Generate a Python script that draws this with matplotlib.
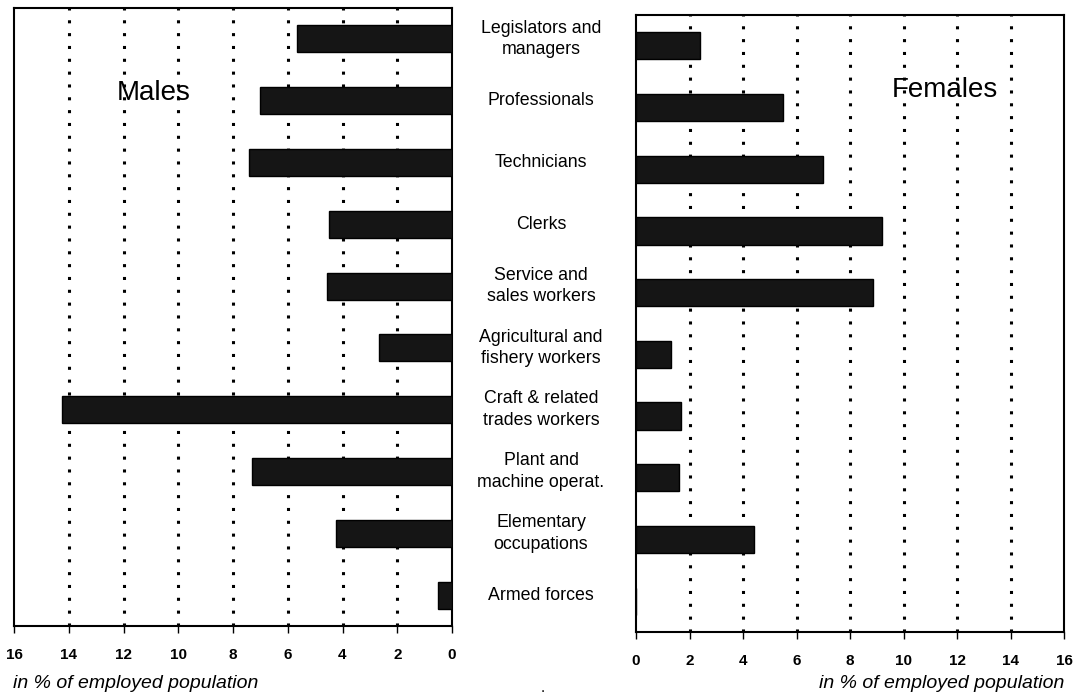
import numpy as np
import matplotlib.pyplot as plt
import matplotlib.transforms as mtransforms

plt.rcParams['font.family'] = ['Liberation Sans', 'DejaVu Sans']

categories = ['Legislators and\nmanagers', 'Professionals', 'Technicians', 'Clerks',
              'Service and\nsales workers', 'Agricultural and\nfishery workers',
              'Craft & related\ntrades workers', 'Plant and\nmachine operat.',
              'Elementary\noccupations', 'Armed forces']
males = [5.65, 7.0, 7.4, 4.5, 4.55, 2.65, 14.25, 7.3, 4.25, 0.5]
females = [2.4, 5.5, 7.0, 9.2, 8.85, 1.3, 1.7, 1.6, 4.4, 0.0]
xticks = [0, 2, 4, 6, 8, 10, 12, 14, 16]

W, H = 1084, 700
fig = plt.figure(figsize=(W / 100, H / 100), dpi=100)
ax1 = fig.add_axes([14 / W, 1 - 626 / H, 438 / W, 618 / H])
ax2 = fig.add_axes([636 / W, 1 - 632 / H, 428 / W, 617 / H])

y = np.arange(len(categories))
bar_kw = dict(height=0.44, color='#151515', edgecolor='black', linewidth=1, zorder=3)
ax1.barh(y, males, **bar_kw)
ax2.barh(y, females, **bar_kw)

for ax in (ax1, ax2):
    ax.set_ylim(len(categories) - 0.5, -0.5)
    ax.set_yticks([])
    ax.set_xticks(xticks)
    ax.set_xticklabels([str(t) for t in xticks], fontweight='bold', fontsize=11)
    ax.tick_params(axis='x', direction='out', length=5, width=1, pad=11)
    for t in xticks[1:-1]:
        ax.axvline(t, color='black', linestyle=(0, (1, 3.2)), linewidth=2.2, zorder=1)
    for s in ax.spines.values():
        s.set_linewidth(1.5)

ax1.set_xlim(16, 0)
ax2.set_xlim(0, 16)

ax1.text(0.32, 0.862, 'Males', transform=ax1.transAxes,
         ha='center', va='center', fontsize=20)
ax2.text(0.722, 0.878, 'Females', transform=ax2.transAxes,
         ha='center', va='center', fontsize=20)

trans = mtransforms.blended_transform_factory(fig.transFigure, ax1.transData)
for i, c in enumerate(categories):
    fig.text(541 / W, i, c, transform=trans, ha='center', va='center',
             fontsize=12.8, linespacing=1.35)

fig.text(13 / W, 1 - 684 / H, 'in % of employed population', style='italic',
         fontsize=14, ha='left', va='center')
fig.text(1064 / W, 1 - 684 / H, 'in % of employed population', style='italic',
         fontsize=14, ha='right', va='center')
fig.text(543 / W, 1 - 688 / H, '.', fontsize=11, ha='center', va='center')

fig.savefig('out.png', dpi=100)
